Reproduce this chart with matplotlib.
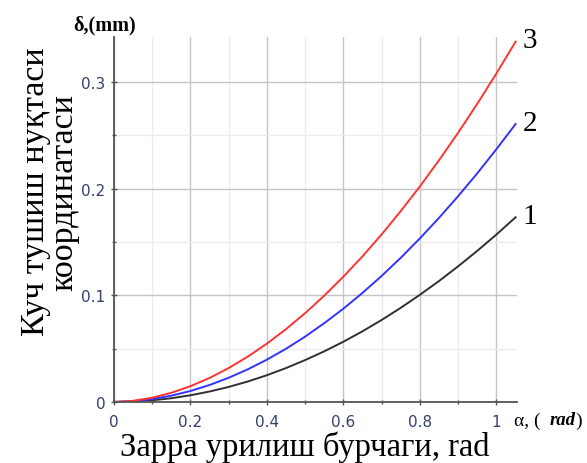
import matplotlib
matplotlib.use('Agg')
import matplotlib.pyplot as plt
from matplotlib.ticker import MultipleLocator

# angle, rad
alpha = [0, 0.05, 0.1, 0.15, 0.2, 0.25, 0.3, 0.35, 0.4, 0.45, 0.5, 0.55,
         0.6, 0.65, 0.7, 0.75, 0.8, 0.85, 0.9, 0.95, 1.0, 1.05]
# displacement, mm (curves 1, 2, 3)
delta_1 = [0, 0.0004, 0.0016, 0.0035, 0.0063, 0.0098, 0.0141, 0.0192, 0.0251, 0.0318, 0.0393, 0.0475,
           0.0565, 0.0663, 0.0769, 0.0883, 0.1005, 0.1134, 0.1272, 0.1417, 0.157, 0.1731]
delta_2 = [0, 0.0007, 0.0027, 0.0059, 0.0103, 0.0159, 0.0227, 0.0306, 0.0397, 0.0499, 0.0613, 0.0739,
           0.0875, 0.1023, 0.1182, 0.1352, 0.1534, 0.1726, 0.193, 0.2144, 0.237, 0.2605]
delta_3 = [0, 0.0011, 0.004, 0.0086, 0.0148, 0.0225, 0.0318, 0.0425, 0.0547, 0.0683, 0.0833, 0.0997,
           0.1175, 0.1366, 0.1571, 0.179, 0.2021, 0.2267, 0.2525, 0.2796, 0.308, 0.3377]
curve_labels = ['1', '2', '3']

SERIF = 'Liberation Serif'
TICK_COLOR = '#34406b'

fig = plt.figure(figsize=(5.87, 4.64), dpi=100)
ax = fig.add_axes([0.194, 0.1315, 0.687, 0.7865])

for ys, col, lab in zip([delta_1, delta_2, delta_3], ['#303030', '#3333ff', '#ff3333'], curve_labels):
    ax.plot(alpha, ys, color=col, linewidth=1.4)
    ax.annotate(lab, (alpha[-1], ys[-1]), xytext=(5, 1), textcoords='offset points',
                fontsize=21, family=SERIF, va='center', ha='left', annotation_clip=False)

ax.set_xlim(0, 1.054)
ax.set_ylim(0, 0.342)
ax.xaxis.set_major_locator(MultipleLocator(0.2))
ax.xaxis.set_minor_locator(MultipleLocator(0.1))
ax.yaxis.set_major_locator(MultipleLocator(0.1))
ax.yaxis.set_minor_locator(MultipleLocator(0.05))
ax.xaxis.set_major_formatter(lambda v, p: '0' if abs(v) < 1e-9 else ('1' if abs(v - 1) < 1e-9 else '%g' % v))
ax.yaxis.set_major_formatter(lambda v, p: '0' if abs(v) < 1e-9 else '%g' % v)

ax.grid(True, which='major', color='#c4c4c4', linewidth=1.0)
ax.grid(True, which='minor', color='#ececec', linewidth=1.0)
ax.set_axisbelow(True)

for s in ['top', 'right']:
    ax.spines[s].set_visible(False)
for s in ['left', 'bottom']:
    ax.spines[s].set_color('#555555')
    ax.spines[s].set_linewidth(1.3)

ax.tick_params(which='both', direction='inout', color='#555555', labelcolor=TICK_COLOR,
               labelsize=11, length=5, width=1)
ax.tick_params(which='minor', length=3)
ax.tick_params(axis='x', pad=6)

fig.text(0.124, 0.945, 'δ,(mm)', fontsize=14.5, fontweight='bold', family=SERIF, ha='left', va='center')
fig.text(0.875, 0.093, 'α, (', fontsize=14, family=SERIF, ha='left', va='center')
fig.text(0.936, 0.093, 'rad', fontsize=13.5, family=SERIF, fontweight='bold', style='italic', ha='left', va='center')
fig.text(0.980, 0.093, ')', fontsize=14, family=SERIF, ha='left', va='center')

fig.text(0.52, 0.036, 'Зарра урилиш бурчаги, rad', fontsize=23.5, family=SERIF, ha='center', va='center')
fig.text(0.085, 0.586, 'Куч тушиш нуқтаси\nкоординатаси', fontsize=24.5, family=SERIF, rotation=90,
         ha='center', va='center', linespacing=0.9, multialignment='center')

fig.savefig('out.png', dpi=100)
